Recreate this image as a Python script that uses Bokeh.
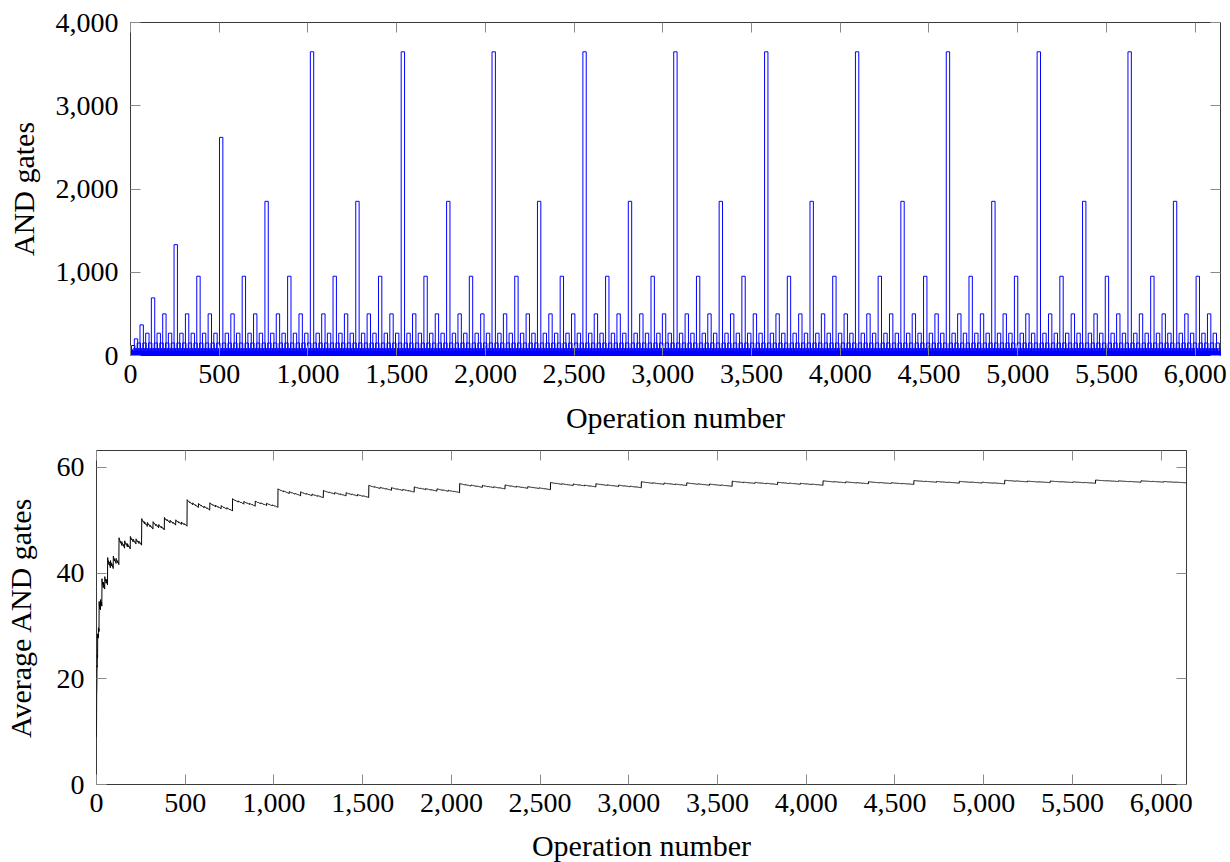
import numpy as np
from bokeh.plotting import figure
from bokeh.models import LinearAxis, NumeralTickFormatter, FixedTicker, Range1d, CustomJSTickFormatter
from bokeh.embed import file_html
from bokeh.resources import INLINE

# ---- data ----
# AND-gate cost of an operation, by level (number of trailing ones of the
# operation number); "first" = first time a level is reached, "repeat" = later
first_cost = [9, 25, 35, 60, 120, 200, 368, 692, 1332, 2620, 3648]
repeat_cost = [21, 36, 50, 80, 150, 268, 500, 952, 1852, 3648, 3648]
n_ops = 6143
x_max = 6143
x_ticks = [0, 500, 1000, 1500, 2000, 2500, 3000, 3500, 4000, 4500, 5000, 5500, 6000]
y_ticks_top = [0, 1000, 2000, 3000, 4000]
y_ticks_bottom = [0, 20, 40, 60]

ops = np.arange(n_ops)
m = ops + 1
low = m & -m
level = np.minimum(np.log2(low).astype(int), len(first_cost) - 1)
is_first = (m == low)
gates = np.where(is_first, np.array(first_cost)[level], np.array(repeat_cost)[level])
avg_gates = np.cumsum(gates) / (ops + 1)

FONT = "Liberation Serif"
TICK_COLOR = "#8a8a8a"
FRAME_COLOR = "#3a3a3a"


def style_axis(ax, ticks, labels=True):
    ax.ticker = FixedTicker(ticks=ticks, minor_ticks=[])
    ax.major_tick_in = 10
    ax.major_tick_out = 0
    ax.minor_tick_in = 0
    ax.minor_tick_out = 0
    ax.major_tick_line_color = TICK_COLOR
    ax.major_tick_line_width = 1
    ax.axis_line_color = None
    ax.major_label_text_font = FONT
    ax.major_label_text_color = "black"
    ax.major_label_text_font_size = "28px"
    ax.axis_label_text_font = FONT
    ax.axis_label_text_font_style = "normal"
    ax.axis_label_text_color = "black"
    ax.axis_label_text_font_size = "30px"
    if labels:
        ax.formatter = NumeralTickFormatter(format="0,0")
        ax.major_label_standoff = 9
    else:
        ax.formatter = CustomJSTickFormatter(code="return ''")
        ax.major_label_standoff = 0


def mirror(p, loc, ticks):
    ax = LinearAxis()
    style_axis(ax, ticks, labels=False)
    p.add_layout(ax, loc)


def base_fig(fw, fh, yr, left, right, top, bottom):
    p = figure(frame_width=fw, frame_height=fh, x_range=Range1d(0, x_max), y_range=Range1d(*yr),
               output_backend="svg", toolbar_location=None,
               min_border_left=left, min_border_right=right,
               min_border_top=top, min_border_bottom=bottom)
    p.grid.visible = False
    p.outline_line_color = FRAME_COLOR
    p.outline_line_width = 1
    p.background_fill_color = "white"
    p.border_fill_color = "white"
    return p


# ---- top: AND gates per operation ----
p1 = base_fig(1090, 333, (0, 4000), 130, 10, 22, 85)
p1.vbar(x=ops, top=gates, width=19, bottom=0, fill_color=None,
        line_color="#0000ff", line_width=1)
style_axis(p1.xaxis[0], x_ticks)
style_axis(p1.yaxis[0], y_ticks_top)
p1.yaxis[0].major_label_standoff = 12
p1.xaxis[0].axis_label = "Operation number"
p1.yaxis[0].axis_label = "AND gates"
p1.xaxis[0].axis_label_standoff = 15
p1.yaxis[0].axis_label_standoff = 13
mirror(p1, "above", x_ticks)
mirror(p1, "right", y_ticks_top)

# ---- bottom: running average ----
p2 = base_fig(1090, 334, (0, 63.2), 96, 44, 10, 78)
p2.line(x=ops, y=avg_gates, line_color="black", line_width=1)
style_axis(p2.xaxis[0], x_ticks)
style_axis(p2.yaxis[0], y_ticks_bottom)
p2.yaxis[0].major_label_standoff = 12
p2.xaxis[0].axis_label = "Operation number"
p2.yaxis[0].axis_label = "Average AND gates"
p2.xaxis[0].axis_label_standoff = 14
p2.yaxis[0].axis_label_standoff = 17
mirror(p2, "above", x_ticks)
mirror(p2, "right", y_ticks_bottom)

open("out.html", "w").write(file_html([p1, p2], INLINE))
